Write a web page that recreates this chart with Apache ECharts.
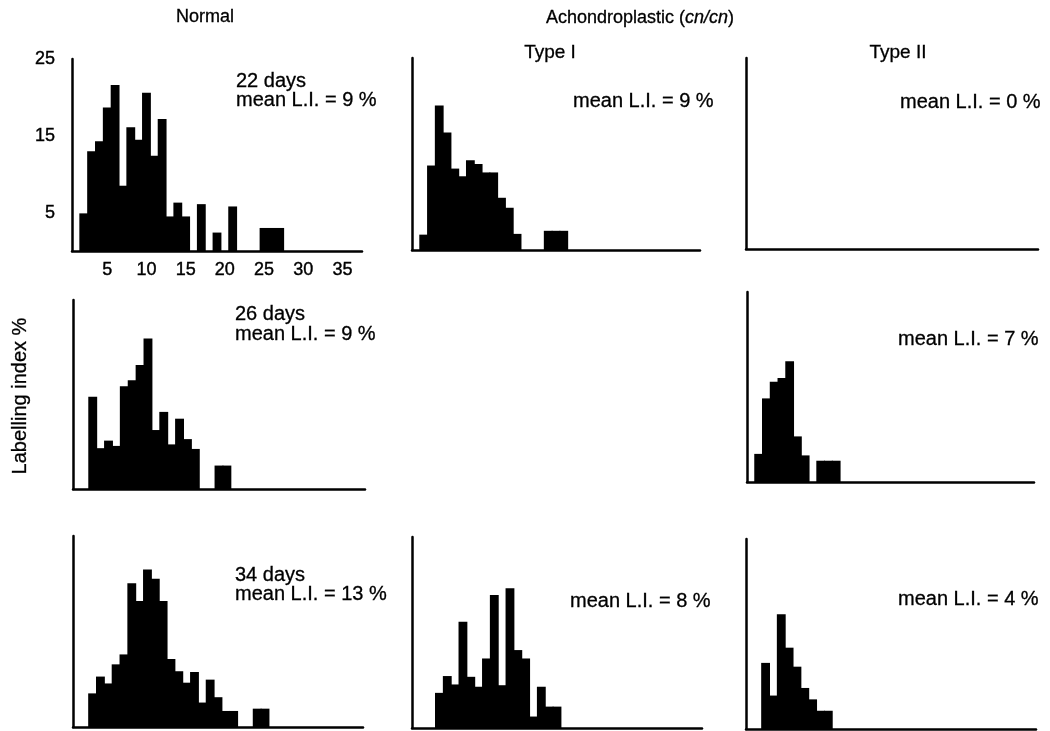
<!DOCTYPE html>
<html lang="en">
<head>
<meta charset="utf-8">
<title>Labelling index histograms</title>
<script src="https://cdn.jsdelivr.net/npm/echarts@6/dist/echarts.min.js"></script>
<style>
	html,body{margin:0;padding:0;background:#fff;}
	#chart{width:1050px;height:731px;}
</style>
</head>
<body>
<div id="chart"></div>
<script>
	// labelling index classes, 1 % wide (same x axis in every panel)
	var categories=['1','2','3','4','5','6','7','8','9','10','11','12','13','14','15','16','17','18','19',
		'20','21','22','23','24','25','26','27','28','29','30','31','32','33','34','35','36','37'];
	var xTickLabels=['5','10','15','20','25','30','35'];
	var yTickLabels=['5','15','25'];

	// % of cells per class
	var normal22=[0,4.9,13.0,14.3,18.7,21.6,8.5,16.1,14.5,20.6,12.4,17.2,4.5,6.3,4.5,0,6.1,0,2.4,0,
		5.8,0,0,0,3.0,3.0,3.0,0,0,0,0,0,0,0,0,0,0];
	var typeI22=[0,2.0,11.0,18.8,15.3,10.6,9.6,11.7,11.2,10.1,10.1,6.8,5.5,2.1,0,0,0,2.5,2.5,2.5,
		0,0,0,0,0,0,0,0,0,0,0,0,0,0,0,0,0];
	var typeII22=[0,0,0,0,0,0,0,0,0,0,0,0,0,0,0,0,0,0,0,0,0,0,0,0,0,0,0,0,0,0,0,0,0,0,0,0,0];
	var normal26=[0,0,12.2,5.4,6.4,5.7,13.6,14.4,16.4,19.9,7.8,10.2,5.9,9.3,6.6,5.3,0,0,3.1,3.1,
		0,0,0,0,0,0,0,0,0,0,0,0,0,0,0,0,0];
	var typeII26=[0,3.7,11.0,13.2,13.7,15.9,6.0,3.5,0,2.8,2.8,2.8,0,0,0,0,0,0,0,0,
		0,0,0,0,0,0,0,0,0,0,0,0,0,0,0,0,0];
	var normal34=[0,0,4.4,6.6,5.7,8.2,9.5,18.8,16.5,20.6,19.4,16.5,8.9,7.3,5.8,7.2,3.2,6.2,3.9,2.1,
		2.1,0,0,2.4,2.4,0,0,0,0,0,0,0,0,0,0,0,0];
	var typeI34=[0,0,0,4.6,6.8,5.7,13.9,6.7,5.4,9.1,17.4,5.6,18.3,10.2,9.1,1.5,5.4,2.8,2.8,0,
		0,0,0,0,0,0,0,0,0,0,0,0,0,0,0,0,0];
	var typeII34=[0,0,8.7,4.4,15.1,10.7,8.2,5.4,3.9,2.4,2.4,0,0,0,0,0,0,0,0,0,
		0,0,0,0,0,0,0,0,0,0,0,0,0,0,0,0,0];

	var FONT="'Liberation Sans', Arial, Helvetica, sans-serif";

	// one panel = one grid; the middle of row 2 is empty
	var panels=[
		{data:normal22, box:{left:72,top:59,width:290,height:192}, labels:true},
		{data:typeI22,  box:{left:412,top:58,width:288,height:192}},
		{data:typeII22, box:{left:746,top:58,width:292,height:191}},
		{data:normal26, box:{left:73,top:300,width:292,height:189}},
		{data:typeII26, box:{left:747,top:292,width:287,height:190}},
		{data:normal34, box:{left:73,top:536,width:290,height:191}},
		{data:typeI34,  box:{left:412,top:537,width:290,height:191}},
		{data:typeII34, box:{left:746,top:539,width:290,height:190}}
	];

	var axisLine={show:true,lineStyle:{color:'#000',width:2.5}};
	var grids=[],xAxes=[],yAxes=[],series=[];
	panels.forEach(function(p,i){
		grids.push({left:p.box.left,top:p.box.top,width:p.box.width,height:p.box.height,containLabel:false});
		xAxes.push({
			type:'category',gridIndex:i,data:categories,boundaryGap:true,
			axisLine:axisLine,axisTick:{show:false},splitLine:{show:false},
			axisLabel:{
				show:!!p.labels,margin:10,color:'#000',fontSize:18,fontFamily:FONT,
				textBorderColor:'#000',textBorderWidth:0.4,
				interval:function(idx,val){return xTickLabels.indexOf(val)>=0;}
			}
		});
		yAxes.push({
			type:'value',gridIndex:i,min:0,max:25,interval:5,
			axisLine:axisLine,axisTick:{show:false},splitLine:{show:false},
			axisLabel:{
				show:!!p.labels,margin:17,color:'#000',fontSize:18,fontFamily:FONT,
				textBorderColor:'#000',textBorderWidth:0.4,
				formatter:function(v){return yTickLabels.indexOf(String(v))>=0?String(v):'';}
			}
		});
		// bars a little wider than the class so neighbours overlap (no white seams)
		series.push({
			type:'bar',xAxisIndex:i,yAxisIndex:i,data:p.data,
			barWidth:p.box.width/categories.length+1,silent:true,
			itemStyle:{color:'#000'}
		});
	});

	function txt(s,x,y,size,align,extra){
		var el={type:'text',x:x,y:y,silent:true,style:{
			text:s,fill:'#000',fontSize:size,fontFamily:FONT,
			stroke:'#000',lineWidth:0.3,
			textAlign:align||'left',textVerticalAlign:'middle'
		}};
		if(extra){for(var k in extra) el[k]=extra[k];}
		return el;
	}

	var graphics=[
		txt('Normal',205,17,18,'center'),
		{type:'text',x:640,y:18,silent:true,style:{
			text:'Achondroplastic ({i|cn/cn})',fill:'#000',fontSize:18,fontFamily:FONT,
			stroke:'#000',lineWidth:0.3,
			textAlign:'center',textVerticalAlign:'middle',
			rich:{i:{fontStyle:'italic',fontSize:18,fontFamily:FONT,fill:'#000'}}
		}},
		txt('Type I',550,53,19,'center'),
		txt('Type II',898,53,19,'center'),
		txt('Labelling index %',20,396,20,'center',{rotation:Math.PI/2}),
		// panel notes
		txt('22 days',236,81,20),
		txt('mean L.I. = 9 %',236,100,20),
		txt('mean L.I. = 9 %',573,101,20),
		txt('mean L.I. = 0 %',900,102,20),
		txt('26 days',235,314,20),
		txt('mean L.I. = 9 %',235,334,20),
		txt('mean L.I. = 7 %',898,339,20),
		txt('34 days',235,575,20),
		txt('mean L.I. = 13 %',235,594,20),
		txt('mean L.I. = 8 %',570,601,20),
		txt('mean L.I. = 4 %',898,599,20)
	];

	var option={
		animation:false,
		backgroundColor:'#fff',
		grid:grids,
		xAxis:xAxes,
		yAxis:yAxes,
		series:series,
		graphic:graphics
	};

	var myChart=echarts.init(document.getElementById('chart'),null,{renderer:'canvas'});
	myChart.setOption(option);
</script>
</body>
</html>
